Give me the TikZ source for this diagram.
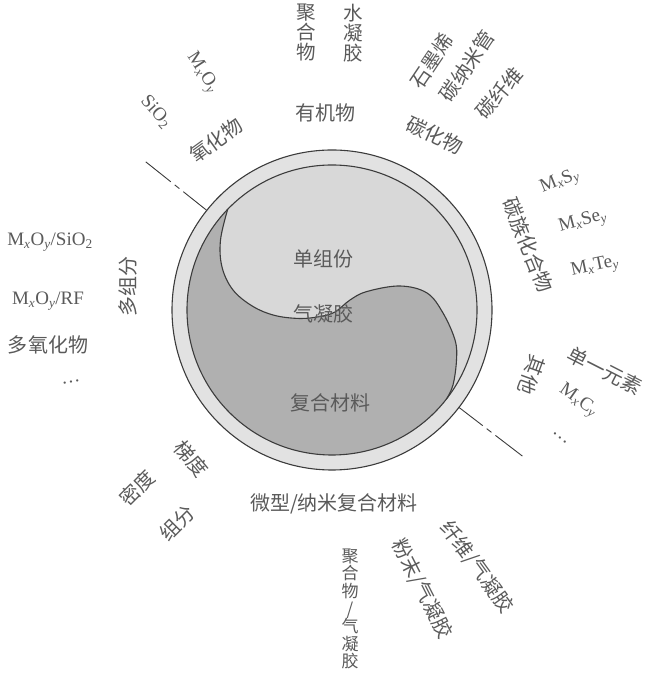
\documentclass[tikz,border=0pt]{standalone}
\usepackage{fontspec}
\usetikzlibrary{calc}
\setmainfont{Liberation Serif}
\newfontfamily\cjk{Noto Sans CJK SC}
\definecolor{txt}{HTML}{5A5A5A}
\definecolor{edge}{HTML}{3C3C3C}
\definecolor{ringc}{HTML}{E2E2E2}
\definecolor{lightc}{HTML}{D8D8D8}
\definecolor{darkc}{HTML}{B0B0B0}
\newcommand\Mx{M\textsubscript{\itshape x}}
\newcommand\sy{\textsubscript{\itshape y}}
\begin{document}
\begin{tikzpicture}[x=1pt,y=1pt,
  lbl/.style={text=txt, font=\cjk\fontsize{20}{22}\selectfont, inner sep=0pt},
  flbl/.style={text=txt, font=\fontsize{19}{21}\selectfont, inner sep=0pt},
  stack/.style={text=txt, font=\cjk\fontsize{19.5}{20}\selectfont, inner sep=0pt, align=center},
  stacks/.style={text=txt, font=\cjk\fontsize{17}{17.6}\selectfont, inner sep=0pt, align=center},
  circ/.style={draw=edge, line width=1.1pt},
  axisline/.style={draw=edge, line width=0.9pt, dash pattern=on 30pt off 5pt on 6pt off 5pt on 40pt}]
\useasboundingbox (0,0) rectangle (648,676);
\coordinate (O) at (332,366);
% rings
\path[circ, fill=ringc] (O) circle[radius=160];
\path[fill=lightc] (O) circle[radius=145];
% dark half
\coordinate (P1) at ($(O)+(136:145)$);
\coordinate (P2) at ($(O)+(-38:145)$);
\fill[darkc] plot[smooth, tension=0.6] coordinates {(227.7,466.7) (220.5,436) (222,409) (233,386) (253,369.5) (275,360.5) (300,357.5) (320,359.5) (335,364) (350,376) (367,384.5) (400,390) (427,383) (443,363) (455,336) (456.5,316) (453,291) (446.3,276.7)}
  arc[start angle=-38, end angle=-224, radius=145] -- cycle;
\draw[circ] plot[smooth, tension=0.6] coordinates {(227.7,466.7) (220.5,436) (222,409) (233,386) (253,369.5) (275,360.5) (300,357.5) (320,359.5) (335,364) (350,376) (367,384.5) (400,390) (427,383) (443,363) (455,336) (456.5,316) (453,291) (446.3,276.7)};
\draw[circ] (O) circle[radius=145];
% axis line
\coordinate (A1) at ($(O)+(141.5:160)$);
\coordinate (A2) at ($(O)+(141.5:238)$);
\coordinate (B1) at ($(O)+(-37.5:160)$);
\coordinate (B2) at ($(O)+(-37.5:240)$);
\draw[axisline] (A1) -- (A2);
\draw[axisline] (B1) -- (B2);
% centre labels
\node[lbl] (c1) at (323,417) {单组份};
\node[lbl] (c2) at (323,362) {气凝胶};
\node[lbl] (c3) at (330,273) {复合材料};
% top
\node[lbl] (t1) at (325,563) {有机物};
\node[stack] (t2) at (306,643) {聚\\合\\物};
\node[stack] (t3) at (353,643) {水\\凝\\胶};
\node[lbl, rotate=56] (t4) at (432,615) {石墨烯};
\node[lbl, rotate=56] (t5) at (467,610) {碳纳米管};
\node[lbl, rotate=49] (t6) at (499,583) {碳纤维};
\node[lbl, rotate=-25] (t7) at (435,541) {碳化物};
\node[lbl, rotate=36] (t8) at (216,536) {氧化物};
\node[flbl, rotate=-48] (t9) at (156,564) {SiO\textsubscript{2}};
\node[flbl, rotate=-57] (t10) at (202,603) {\Mx O\sy};
% left
\node[lbl, rotate=90] (l1) at (128,389) {多组分};
\node[flbl] (l2) at (50,434) {\Mx O\sy/SiO\textsubscript{2}};
\node[flbl] (l3) at (48,375) {\Mx O\sy/RF};
\node[lbl] (l4) at (48,331) {多氧化物};
\node[flbl, rotate=10] (l5) at (71,294) {\ldots};
% right
\node[lbl, rotate=-68] (r1) at (528,431) {碳族化合物};
\node[flbl, rotate=22] (r2) at (560,494) {\Mx S\sy};
\node[flbl, rotate=15] (r3) at (583,454) {\Mx Se\sy};
\node[flbl, rotate=12] (r4) at (595,409) {\Mx Te\sy};
\node[lbl, rotate=-110] (r5) at (532,301) {其他};
\node[lbl, rotate=-27] (r6) at (605,305) {单一元素};
\node[flbl, rotate=-35] (r7) at (578,275) {\Mx C\sy};
\node[flbl, rotate=-40] (r8) at (560,238) {\ldots};
% bottom
\node[lbl, rotate=-50] (b1) at (191,217) {梯度};
\node[lbl, rotate=45] (b2) at (137,188) {密度};
\node[lbl, rotate=45] (b3) at (177,153) {组分};
\node[lbl] (b4) at (334,172) {微型/纳米复合材料};
\node[lbl, rotate=-54] (b5) at (477,109) {纤维/气凝胶};
\node[lbl, rotate=-63] (b6) at (422,87) {粉末/气凝胶};
\node[stacks] (b7) at (350,67) {聚\\合\\物\\/\\气\\凝\\胶};
\end{tikzpicture}
\end{document}
